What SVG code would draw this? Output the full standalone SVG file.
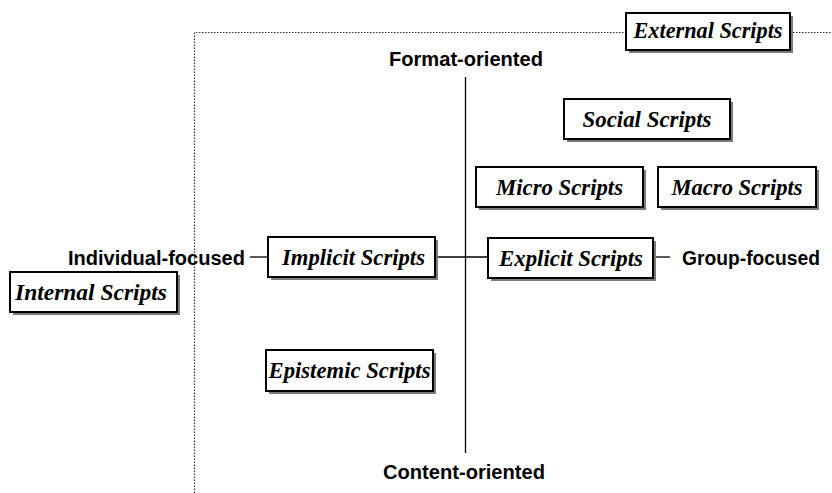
<svg xmlns="http://www.w3.org/2000/svg" width="832" height="493" viewBox="0 0 832 493">
<style>
.bg{fill:#fff}
.shadow{fill:#7a7a7a}
.box{fill:#fff;stroke:#000;stroke-width:2}
.t{font-family:"Liberation Serif","Times New Roman",serif;font-weight:bold;font-style:italic;font-size:24px;fill:#000;text-anchor:middle}
.lab{font-family:"Liberation Sans",Arial,sans-serif;font-weight:bold;font-size:20px;fill:#000}
.ln{stroke:#000;stroke-width:1.3;fill:none}
.dot{stroke:#333;stroke-width:1.2;stroke-dasharray:1.5 1.5;fill:none}
</style>
<rect class="bg" x="0" y="0" width="832" height="493"/>
<g id="connectors">
<path class="dot" d="M194.5,493 V32.5 H626"/>
<path class="dot" d="M790,32.5 H832"/>
<line class="ln" x1="465.5" y1="77" x2="465.5" y2="453"/>
<line class="ln" x1="250" y1="257" x2="268" y2="257"/>
<line class="ln" x1="435" y1="257" x2="488" y2="257"/>
<line class="ln" x1="653" y1="257" x2="670" y2="257"/>
</g>
<g id="labels">
<text class="lab" x="466" y="66" text-anchor="middle" textLength="154" lengthAdjust="spacingAndGlyphs">Format-oriented</text>
<text class="lab" x="464" y="479" text-anchor="middle" textLength="162" lengthAdjust="spacingAndGlyphs">Content-oriented</text>
<text class="lab" x="68" y="265" textLength="177" lengthAdjust="spacingAndGlyphs">Individual-focused</text>
<text class="lab" x="682" y="265" textLength="138" lengthAdjust="spacingAndGlyphs">Group-focused</text>
</g>
<g id="external">
<rect class="shadow" x="629" y="16" width="164" height="37"/>
<rect class="box" x="626" y="13" width="164" height="37"/>
<text class="t" x="708" y="38" textLength="149" lengthAdjust="spacingAndGlyphs">External Scripts</text>
</g>
<g id="social">
<rect class="shadow" x="567" y="102" width="166" height="40"/>
<rect class="box" x="564" y="99" width="166" height="40"/>
<text class="t" x="647" y="127" textLength="129" lengthAdjust="spacingAndGlyphs">Social Scripts</text>
</g>
<g id="micro">
<rect class="shadow" x="479" y="170" width="167" height="40"/>
<rect class="box" x="476" y="167" width="167" height="40"/>
<text class="t" x="559.5" y="195" textLength="127" lengthAdjust="spacingAndGlyphs">Micro Scripts</text>
</g>
<g id="macro">
<rect class="shadow" x="661" y="170" width="158" height="40"/>
<rect class="box" x="658" y="167" width="158" height="40"/>
<text class="t" x="737" y="195" textLength="131" lengthAdjust="spacingAndGlyphs">Macro Scripts</text>
</g>
<g id="implicit">
<rect class="shadow" x="271" y="240" width="167" height="40"/>
<rect class="box" x="268" y="237" width="167" height="40"/>
<text class="t" x="353.5" y="265" textLength="143" lengthAdjust="spacingAndGlyphs">Implicit Scripts</text>
</g>
<g id="explicit">
<rect class="shadow" x="491" y="241" width="165" height="40"/>
<rect class="box" x="488" y="238" width="165" height="40"/>
<text class="t" x="571" y="266" textLength="144" lengthAdjust="spacingAndGlyphs">Explicit Scripts</text>
</g>
<g id="internal">
<rect class="shadow" x="13" y="275" width="167" height="40"/>
<rect class="box" x="10" y="272" width="167" height="40"/>
<text class="t" x="91" y="300" textLength="152" lengthAdjust="spacingAndGlyphs">Internal Scripts</text>
</g>
<g id="epistemic">
<rect class="shadow" x="269" y="353" width="167" height="41"/>
<rect class="box" x="266" y="350" width="167" height="41"/>
<text class="t" x="349.5" y="378" textLength="162" lengthAdjust="spacingAndGlyphs">Epistemic Scripts</text>
</g>
</svg>
